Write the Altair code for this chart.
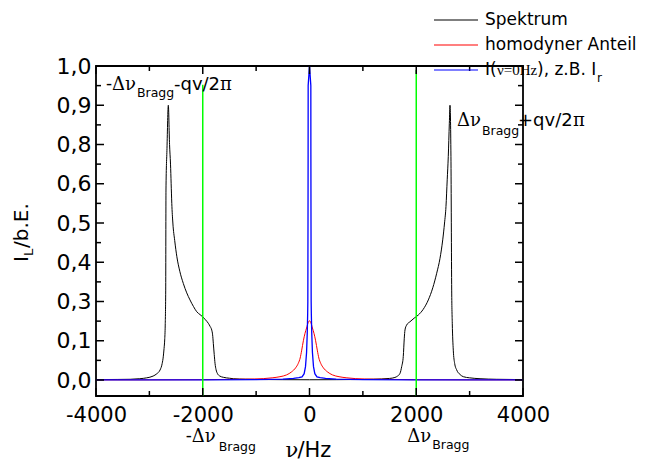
import altair as alt
import pandas as pd

# ---------------- data ----------------
spec_x = [-4000, -3600, -3360, -3180, -3050, -2930, -2860, -2800, -2760, -2740, -2725, -2713, -2703, -2694, -2689, -2670, -2645,
          -2622, -2604, -2592, -2580, -2560, -2525, -2485, -2430, -2364, -2300, -2239, -2175, -2113, -2050, -2001, -1950, -1896,
          -1860, -1832, -1815, -1802, -1785, -1770, -1750, -1727, -1680, -1615, -1500, -1428, -1200, -900, -500, 0,
          500, 900, 1200, 1500, 1600, 1650, 1696, 1727, 1757, 1775, 1789, 1820, 1883, 1960, 2038, 2130, 2226, 2310, 2383,
          2445, 2496, 2530, 2557, 2580, 2600, 2620, 2632,
          2650, 2664, 2675, 2694, 2720, 2758, 2820, 2882, 3000, 3195, 3500, 4000]
spec_y = [0.0010, 0.0014, 0.0018, 0.0033, 0.0055, 0.0100, 0.0160, 0.0255, 0.0420, 0.0590, 0.0800, 0.1040, 0.1800, 0.3290, 0.5840, 0.7800, 0.9000,
          0.8000, 0.7000, 0.6000, 0.5500, 0.5000, 0.4550, 0.4140, 0.3770, 0.3460, 0.3220, 0.3040, 0.2750, 0.2480, 0.2330, 0.2220, 0.2070, 0.1890,
          0.1720, 0.1550, 0.1300, 0.0935, 0.0650, 0.0425, 0.0260, 0.0170, 0.0100, 0.0069, 0.0045, 0.0033, 0.0020, 0.0012, 0.0008, 0.0006,
          0.0008, 0.0012, 0.0020, 0.0040, 0.0065, 0.0100, 0.0170, 0.0340, 0.0600, 0.1100, 0.1550, 0.1800, 0.1970, 0.2150, 0.2310, 0.2600, 0.3040, 0.3350, 0.3720,
          0.4100, 0.4570, 0.5000, 0.5420, 0.6200, 0.7380, 0.8540, 0.9000,
          0.7400, 0.3290, 0.1890, 0.0760, 0.0420, 0.0255, 0.0140, 0.0084, 0.0055, 0.0033, 0.0018, 0.0010]

homo_x = [-4000, -3000, -2000, -1500, -1200, -866, -700, -553, -430, -333, -260, -210, -175, -146, -115, -84, -55, -25, 0,
          25, 55, 84, 115, 146, 175, 210, 260, 333, 430, 553, 700, 866, 1200, 1500, 2000, 3000, 4000]
homo_y = [0.0003, 0.0004, 0.0008, 0.0015, 0.0020, 0.0035, 0.0055, 0.0084, 0.0130, 0.0210, 0.0310, 0.0425, 0.0560, 0.0760, 0.1000, 0.1380, 0.1650, 0.1920, 0.2020,
          0.1920, 0.1650, 0.1380, 0.1000, 0.0760, 0.0560, 0.0425, 0.0310, 0.0210, 0.0130, 0.0084, 0.0055, 0.0035, 0.0020, 0.0015, 0.0008, 0.0004, 0.0003]

zero_x = [-4000, -2000, -1000, -500, -300, -200, -140, -100, -75, -55, -42, -34, -31, -28, -26, -25, 0,
          25, 26, 28, 31, 34, 42, 55, 75, 100, 140, 200, 300, 500, 1000, 2000, 4000]
zero_y = [0.0003, 0.0005, 0.0010, 0.0020, 0.0040, 0.0060, 0.0080, 0.0160, 0.0340, 0.0700, 0.1400, 0.2400, 0.3000, 0.5000, 0.7500, 0.9500, 1.0000,
          0.9500, 0.7500, 0.5000, 0.3000, 0.2400, 0.1400, 0.0700, 0.0340, 0.0160, 0.0080, 0.0060, 0.0040, 0.0020, 0.0010, 0.0005, 0.0003]

bragg_x = [-2000, 2000]
bragg_top = [0.952, 0.99]

x_major = [-4000, -2000, 0, 2000, 4000]
x_minor = [-3000, -1000, 1000, 3000]
y_major = [0.0, 0.1, 0.3, 0.4, 0.5, 0.6, 0.8, 0.9, 1.0]
y_minor = [0.05, 0.2, 0.35, 0.45, 0.55, 0.7, 0.85, 0.95]
y_bottom = -0.0408

series_names = ["Spektrum", "homodyner Anteil"]
series_colors = ["#000000", "#ff0000", "#0000ff"]

# ---------------- layout / style ----------------
W, H = 427, 330
SANS = "DejaVu Sans"
SERIF = "DejaVu Serif"
SERIF2 = "Liberation Serif"
MAJ, MIN = 8, 5

step = (H - 16) / 8
y_range = [H] + [H - 16 - i * step for i in range(9)]
XS = alt.Scale(domain=[-4000, 4000], nice=False, zero=False)
YS = alt.Scale(domain=[y_bottom] + y_major, range=y_range, nice=False, zero=False)

AX_X = alt.Axis(orient="bottom", values=x_major, title=None, grid=False, ticks=False, domain=False,
                labelExpr="'' + datum.value",
                labelPadding=8, labelFont=SANS, labelFontSize=21, labelColor="black",
                labelFlush=False, labelOverlap=False, labelBound=False)
AX_Y = alt.Axis(orient="left", values=y_major, title=None, grid=False, ticks=False, domain=False,
                labelExpr="replace(format(datum.value, '.1f'), '.', ',')",
                labelPadding=5, labelFont=SANS, labelFontSize=22, labelColor="black",
                labelFlush=False, labelOverlap=False, labelBound=False)


def X(field):
    return alt.X(field, scale=XS, axis=AX_X)


def Y(field):
    return alt.Y(field, scale=YS, axis=AX_Y)


df_spec = pd.DataFrame({"x": spec_x, "y": spec_y})
df_homo = pd.DataFrame({"x": homo_x, "y": homo_y})
df_zero = pd.DataFrame({"x": zero_x, "y": zero_y})
df_bragg = pd.DataFrame({"x": bragg_x, "y0": [y_bottom] * len(bragg_x), "y1": bragg_top})

spec = alt.Chart(df_spec).mark_line(color=series_colors[0], strokeWidth=1.0, interpolate="monotone").encode(
    x=X("x:Q"), y=Y("y:Q"))
homo = alt.Chart(df_homo).mark_line(color=series_colors[1], strokeWidth=1.0, interpolate="monotone").encode(
    x=X("x:Q"), y=Y("y:Q"))
zero = alt.Chart(df_zero).mark_line(color=series_colors[2], strokeWidth=1.3).encode(
    x=X("x:Q"), y=Y("y:Q"))
bragg = alt.Chart(df_bragg).mark_rule(color="#00ff00", strokeWidth=1.5).encode(
    x=X("x:Q"), y=Y("y0:Q"), y2="y1:Q")


def xticks(values, y0, y1):
    return alt.Chart(pd.DataFrame({"x": values})).mark_rule(color="black", strokeWidth=1.5).encode(
        x=X("x:Q"), y=alt.value(y0), y2=alt.value(y1))


def yticks(values, x0, x1):
    return alt.Chart(pd.DataFrame({"y": values})).mark_rule(color="black", strokeWidth=1.5).encode(
        y=Y("y:Q"), x=alt.value(x0), x2=alt.value(x1))


ticks = [
    xticks(x_major, H, H - MAJ), xticks(x_minor, H, H - MIN),
    xticks(x_major, 0, MAJ), xticks(x_minor, 0, MIN),
    yticks(y_major, 0, MAJ), yticks(y_minor, 0, MIN),
    yticks(y_major, W, W - MAJ), yticks(y_minor, W, W - MIN),
]


def txt(text, font, size, x=None, y=None, xpix=None, ypix=None, dx=0, dy=0, angle=None,
        align="left", baseline="alphabetic"):
    df = pd.DataFrame({"x": [x if x is not None else 0], "y": [y if y is not None else 0]})
    enc = {
        "x": alt.value(xpix) if xpix is not None else X("x:Q"),
        "y": alt.value(ypix) if ypix is not None else Y("y:Q"),
    }
    kw = dict(text=text, font=font, fontSize=size, dx=dx, dy=dy, align=align,
              baseline=baseline, color="black")
    if angle is not None:
        kw["angle"] = angle
    return alt.Chart(df).mark_text(**kw).encode(**enc)


texts = [
    # -Δν_Bragg - qv/2π (upper left)
    txt("-Δν", SERIF, 18, x=-3813, y=0.939),
    txt("Bragg", SANS, 12.5, x=-3813, y=0.939, dx=31, dy=7),
    txt("-qv/2", SANS, 18, x=-3813, y=0.939, dx=68),
    txt("π", SERIF, 18, x=-3813, y=0.939, dx=114),
    # Δν_Bragg + qv/2π (upper right)
    txt("Δν", SERIF, 18, x=2763, y=0.847),
    txt("Bragg", SANS, 12.5, x=2763, y=0.847, dx=25, dy=9),
    txt("+qv/2", SANS, 18, x=2763, y=0.847, dx=61),
    txt("π", SERIF, 18, x=2763, y=0.847, dx=116),
    # below the axis
    txt("-Δν", SERIF, 18, x=-2000, ypix=376, dx=-17),
    txt("Bragg", SANS, 12.5, x=-2000, ypix=376, dx=16, dy=9),
    txt("Δν", SERIF, 18, x=2000, ypix=376, dx=-9),
    txt("Bragg", SANS, 12.5, x=2000, ypix=376, dx=16, dy=7),
    # x title
    txt("ν", SERIF, 21, x=0, ypix=391, dx=-24),
    txt("/Hz", SANS, 21, x=0, ypix=391, dx=-12),
    # y title (rotated)
    txt("I", SANS, 20, xpix=-68, ypix=196, angle=270),
    txt("L", SANS, 13, xpix=-68, ypix=196, dx=6, dy=5, angle=270),
    txt("/b.E.", SANS, 20, xpix=-68, ypix=196, dx=14, angle=270),
]

# legend (drawn by hand)
legend_rows = [-46, -21, 4]
one = pd.DataFrame({"a": [0]})
legend = []
for i, yrow in enumerate(legend_rows):
    legend.append(alt.Chart(one).mark_rule(color=series_colors[i], strokeWidth=1.2).encode(
        x=alt.value(338), x2=alt.value(382), y=alt.value(yrow)))
for i, name in enumerate(series_names):
    legend.append(txt(name, SANS, 17, xpix=389, ypix=legend_rows[i], baseline="middle"))
legend += [
    txt("I(", SANS, 17, xpix=389, ypix=legend_rows[2], baseline="middle"),
    txt("ν=0Hz", SERIF2, 15, xpix=401, ypix=legend_rows[2], baseline="middle"),
    txt("), z.B. I", SANS, 17, xpix=441, ypix=legend_rows[2], baseline="middle"),
    txt("r", SANS, 12, xpix=501, ypix=legend_rows[2], dy=8, baseline="middle"),
]

chart = alt.layer(spec, homo, zero, bragg, *ticks, *texts, *legend).properties(
    width=W, height=H,
    padding={"left": 88, "top": 58, "right": 115, "bottom": 67},
    autosize=alt.AutoSizeParams(type="none"),
).configure_view(stroke="black", strokeWidth=1.8)

chart.save("out.html", embed_options={"renderer": "svg", "actions": False})
